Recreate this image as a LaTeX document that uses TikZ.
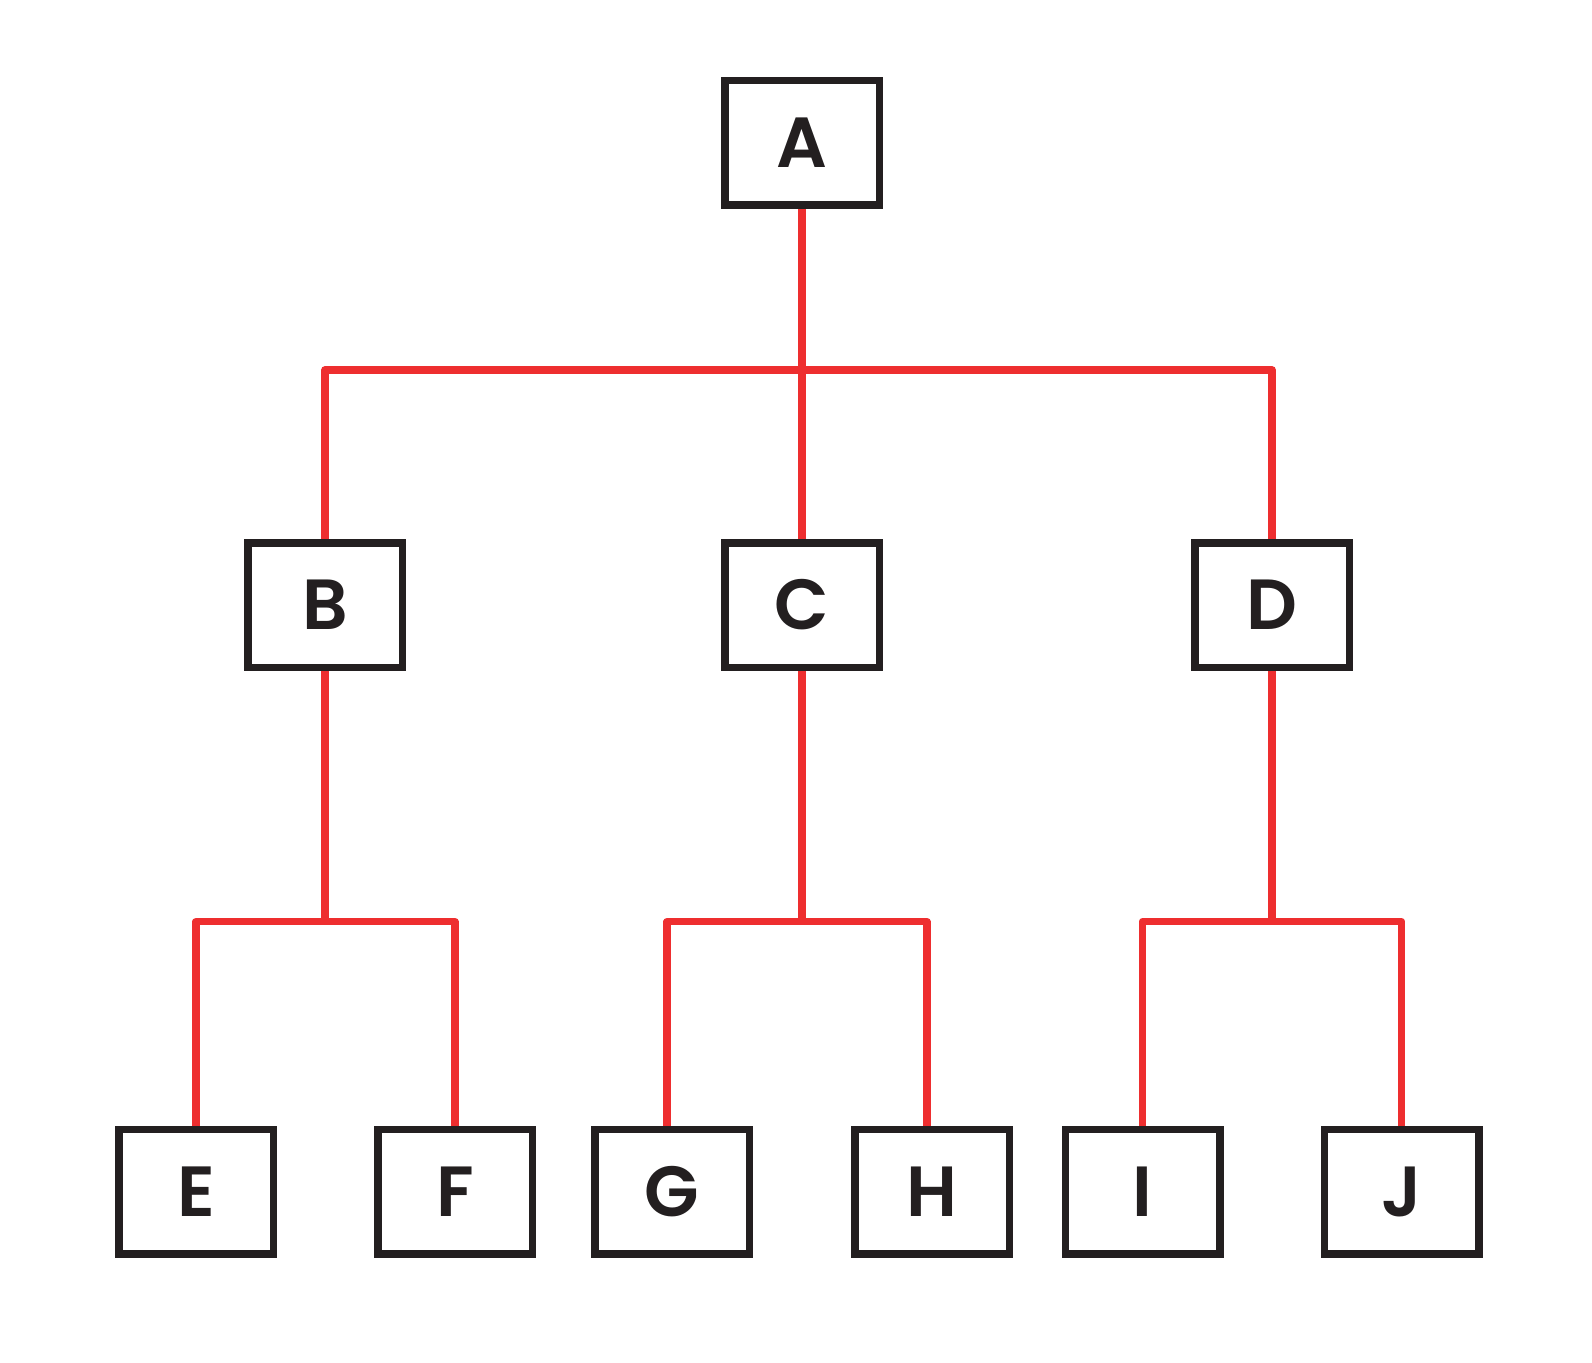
\documentclass[tikz,border=0pt]{standalone}
\usepackage{fontspec}
\setmainfont{Poppins}
\newfontfamily\boxFont{Poppins}[UprightFont={* SemiBold}]
\usepackage{xcolor}
\usetikzlibrary{backgrounds}
\definecolor{boxColor}{HTML}{231F20}
\definecolor{linkColor}{HTML}{EE2E2F}
\definecolor{labelTextColor}{HTML}{231F20}

\begin{document}
\begin{tikzpicture}[x=1bp,y=-1bp,
  box/.style={draw=boxColor, line width=7.5bp, minimum width=154.5bp,
    minimum height=124.5bp, inner sep=0pt, text=labelTextColor,
    font=\boxFont\fontsize{71bp}{71bp}\selectfont},
  link/.style={draw=linkColor, line width=7.5bp, line join=round}]
\useasboundingbox (0, 0) rectangle (1592, 1363);

% top box
\node[box] (A) at (802, 143) {A};

% middle boxes
\begin{scope}[shift={(0, 605)}]
\node[box] (B) at (325, 0) {B};
\node[box] (C) at (802, 0) {C};
\node[box] (D) at (1272, 0) {D};
\end{scope}

% bottom boxes
\begin{scope}[shift={(0, 1191.5)}]
\node[box] (E) at (196, 0) {E};
\node[box] (F) at (455, 0) {F};
\node[box] (G) at (672, 0) {G};
\node[box] (H) at (932, 0) {H};
\node[box] (I) at (1142.5, 0) {I};
\node[box] (J) at (1401.5, 0) {J};
\end{scope}

% bus points
\coordinate (busA) at (802, 370);
\coordinate (busB) at (325, 921.7);
\coordinate (busC) at (802, 921.7);
\coordinate (busD) at (1272, 921.7);

% link layer
\begin{scope}[on background layer]
\draw[link] (A.south) -- (C.north);
\draw[link] (B.north) |- (busA) -| (D.north);
\draw[link] (B.south) -- (busB);
\draw[link] (E.north) |- (busB) -| (F.north);
\draw[link] (C.south) -- (busC);
\draw[link] ([xshift=-5bp]G.north) |- (busC) -| ([xshift=-5bp]H.north);
\draw[link] (D.south) -- (busD);
\draw[link] (I.north) |- (busD) -| (J.north);
\end{scope}
\end{tikzpicture}
\end{document}
